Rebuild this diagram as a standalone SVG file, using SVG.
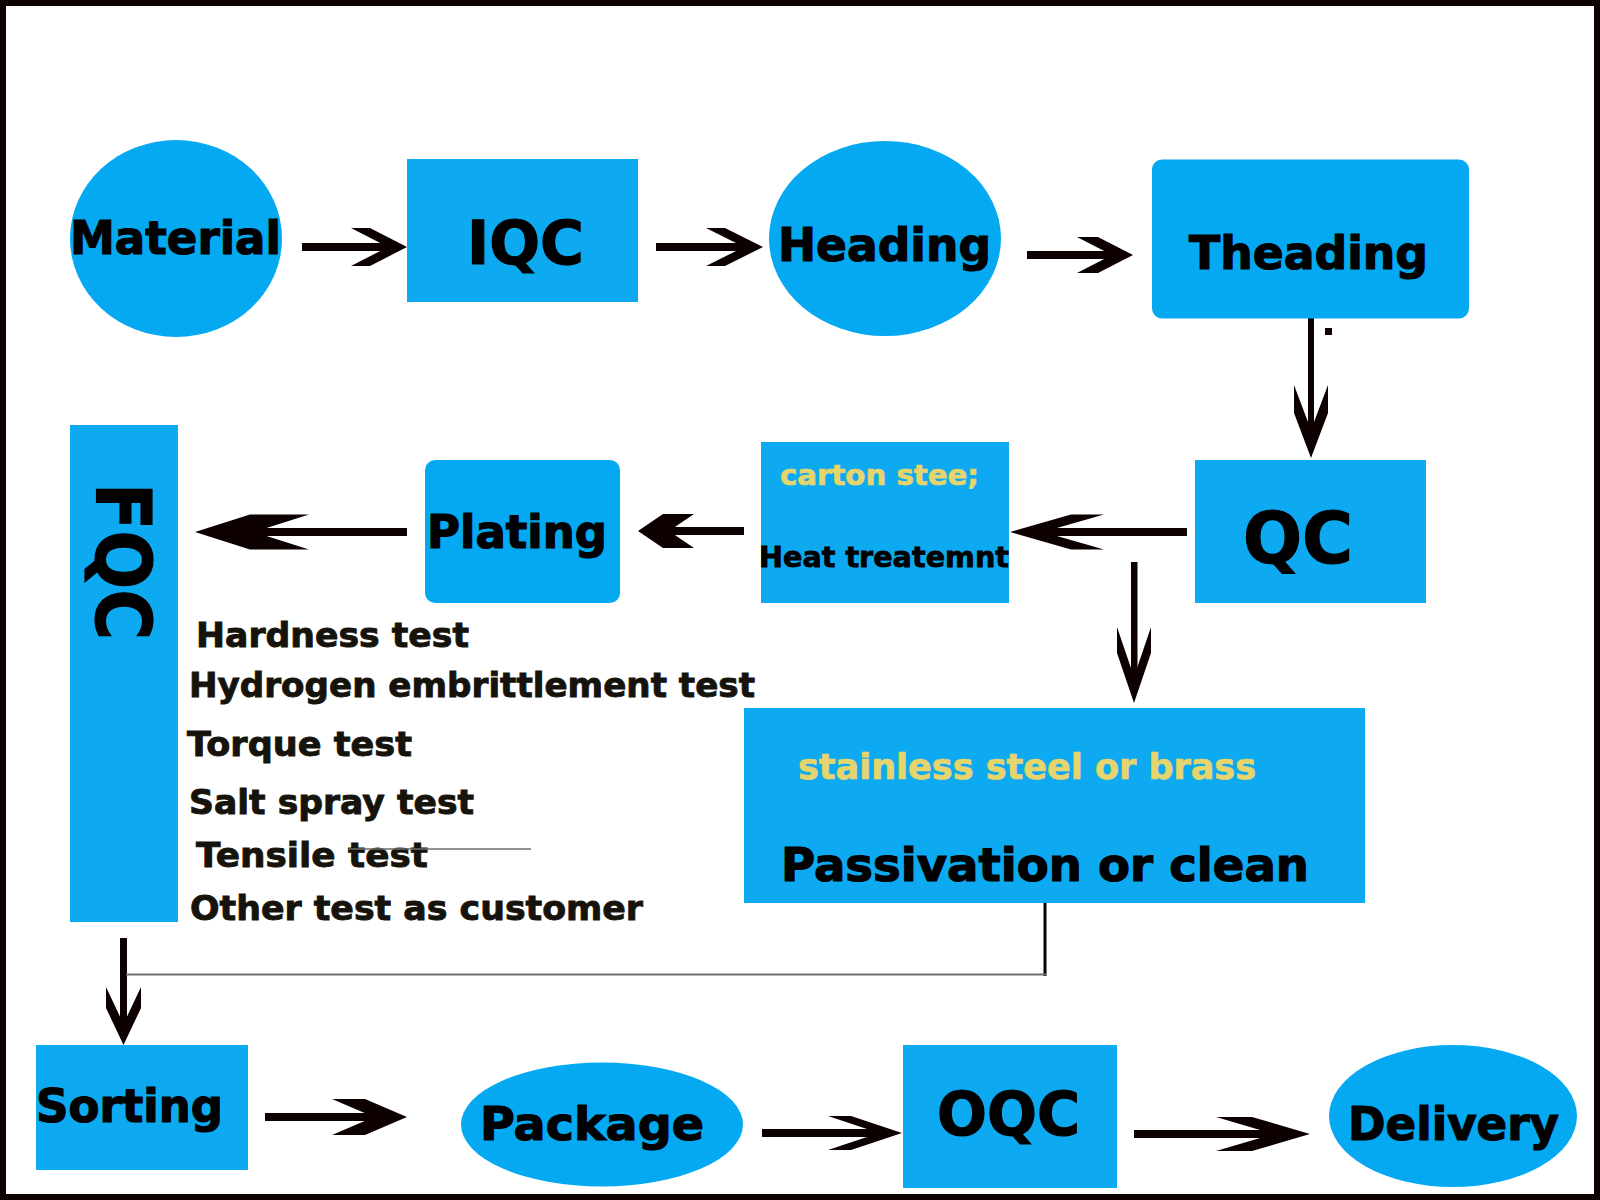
<svg xmlns="http://www.w3.org/2000/svg" width="1600" height="1200" viewBox="0 0 1600 1200">
<style>
.lbl{font-family:"DejaVu Sans","Liberation Sans",sans-serif;font-weight:bold;fill:#000;stroke:#000;stroke-width:1.2px}
.tst{font-family:"DejaVu Sans","Liberation Sans",sans-serif;font-weight:bold;fill:#15130b;stroke:#15130b;stroke-width:0.9px;font-size:34.5px}
.yel{font-family:"DejaVu Sans","Liberation Sans",sans-serif;font-weight:bold;fill:#e6d46c;stroke:#e6d46c;stroke-width:0.7px}
.rb{fill:#0eaaf1}
.eb{fill:#04a9f2}
.arw{fill:#0d0000}
</style>
<rect x="0" y="0" width="1600" height="1200" fill="#fff"/>
<rect x="3" y="3" width="1594" height="1194" fill="none" stroke="#0d0000" stroke-width="6"/>

<g id="connectors">
  <g class="arw">
    <rect x="302" y="243" width="93" height="8"/>
    <polygon points="407,247 370,228 351,228 388,247 351,266 370,266"/>
    <rect x="656" y="243" width="94" height="8"/>
    <polygon points="763,247 725,228 706,228 744,247 706,266 725,266"/>
    <rect x="1027" y="251" width="93" height="8"/>
    <polygon points="1133,255 1098,237 1077,237 1112,255 1077,273 1098,273"/>
    <rect x="1308" y="318" width="6" height="125"/>
    <polygon points="1311,458 1294,413 1294,385 1311,430 1328,385 1328,413"/>
    <rect x="1325" y="328" width="7" height="7"/>
    <rect x="1025" y="528" width="162" height="8"/>
    <polygon points="1010,532 1071,514.5 1104,514.5 1043,532 1104,549.5 1071,549.5"/>
    <rect x="650" y="527" width="94" height="8"/>
    <polygon points="638,531 663,514 694,514 669,531 694,548 663,548"/>
    <rect x="210" y="528" width="197" height="8"/>
    <polygon points="195,532 250,514.5 309,514.5 254,532 309,549.5 250,549.5"/>
    <rect x="1131" y="562" width="6.5" height="130"/>
    <polygon points="1134,703 1117,653 1117,627 1134,677 1151,627 1151,653"/>
    <rect x="120" y="938" width="7" height="95"/>
    <polygon points="123.5,1045 106,1008 106,987 123.5,1024 141,987 141,1008"/>
    <rect x="265" y="1113" width="130" height="8"/>
    <polygon points="407,1117 365,1099 332,1099 374,1117 332,1135 365,1135"/>
    <rect x="762" y="1129" width="128" height="8"/>
    <polygon points="902,1133 851,1116 828,1116 879,1133 828,1150 851,1150"/>
    <rect x="1134" y="1130" width="161" height="8"/>
    <polygon points="1310,1134 1252,1117 1216,1117 1274,1134 1216,1151 1252,1151"/>
  </g>
  <line x1="1045" y1="903" x2="1045" y2="976" stroke="#0d0000" stroke-width="3"/>
  <line x1="126" y1="974.5" x2="1046" y2="974.5" stroke="#6e6e6e" stroke-width="2"/>
</g>

<g id="material"><ellipse class="eb" cx="176" cy="238.5" rx="106" ry="98.5"/><text class="lbl" x="70" y="254" font-size="47" textLength="211" lengthAdjust="spacingAndGlyphs">Material</text></g>
<g id="iqc"><rect class="rb" x="407" y="159" width="231" height="143"/><text class="lbl" x="467" y="264" font-size="61" textLength="117" lengthAdjust="spacingAndGlyphs">IQC</text></g>
<g id="heading"><ellipse class="eb" cx="885" cy="238.5" rx="116" ry="97.5"/><text class="lbl" x="778" y="261" font-size="46.5" textLength="213" lengthAdjust="spacingAndGlyphs">Heading</text></g>
<g id="theading"><rect class="eb" x="1152" y="159.5" width="317" height="159" rx="10"/><text class="lbl" x="1189" y="269" font-size="46" textLength="239" lengthAdjust="spacingAndGlyphs">Theading</text></g>
<g id="qc"><rect class="rb" x="1195" y="460" width="231" height="143"/><text class="lbl" x="1243" y="563" font-size="71" textLength="110" lengthAdjust="spacingAndGlyphs">QC</text></g>
<g id="heat"><rect class="rb" x="761" y="442" width="248" height="161"/><text class="yel" x="780" y="485" font-size="29" textLength="199" lengthAdjust="spacingAndGlyphs">carton stee;</text><text class="lbl" x="759" y="567" font-size="29" textLength="250" lengthAdjust="spacingAndGlyphs" style="stroke-width:0.8px">Heat treatemnt</text></g>
<g id="plating"><rect class="eb" x="425" y="460" width="195" height="143" rx="10"/><text class="lbl" x="427" y="548" font-size="45.5" textLength="180" lengthAdjust="spacingAndGlyphs">Plating</text></g>
<g id="fqc"><rect class="rb" x="70" y="425" width="108" height="497"/><text class="lbl" font-size="76" textLength="157" lengthAdjust="spacingAndGlyphs" transform="translate(96,483) rotate(90)">FQC</text></g>
<g id="tests">
  <text class="tst" x="196" y="647" textLength="273" lengthAdjust="spacingAndGlyphs">Hardness test</text>
  <text class="tst" x="189" y="697" textLength="566" lengthAdjust="spacingAndGlyphs">Hydrogen embrittlement test</text>
  <text class="tst" x="187" y="756" textLength="225" lengthAdjust="spacingAndGlyphs">Torque test</text>
  <text class="tst" x="189" y="814" textLength="285" lengthAdjust="spacingAndGlyphs">Salt spray test</text>
  <text class="tst" x="196" y="867" textLength="232" lengthAdjust="spacingAndGlyphs">Tensile test</text>
  <line x1="349" y1="849" x2="531" y2="849" stroke="#6e6e6e" stroke-width="1.5"/>
  <text class="tst" x="190" y="920" textLength="453" lengthAdjust="spacingAndGlyphs">Other test as customer</text>
</g>
<g id="passivation"><rect class="rb" x="744" y="708" width="621" height="195"/><text class="yel" x="798" y="779" font-size="35" textLength="458" lengthAdjust="spacingAndGlyphs">stainless steel or brass</text><text class="lbl" x="781" y="881" font-size="46" textLength="528" lengthAdjust="spacingAndGlyphs">Passivation or clean</text></g>
<g id="sorting"><rect class="rb" x="36" y="1045" width="212" height="125"/><text class="lbl" x="36" y="1122" font-size="46" textLength="187" lengthAdjust="spacingAndGlyphs">Sorting</text></g>
<g id="package"><ellipse class="eb" cx="602" cy="1124.5" rx="141" ry="62"/><text class="lbl" x="480" y="1140" font-size="47" textLength="224" lengthAdjust="spacingAndGlyphs">Package</text></g>
<g id="oqc"><rect class="rb" x="903" y="1045" width="214" height="143"/><text class="lbl" x="937" y="1135" font-size="61" textLength="143" lengthAdjust="spacingAndGlyphs">OQC</text></g>
<g id="delivery"><ellipse class="eb" cx="1453" cy="1116" rx="124" ry="71"/><text class="lbl" x="1348" y="1140" font-size="46" textLength="211" lengthAdjust="spacingAndGlyphs">Delivery</text></g>
</svg>
